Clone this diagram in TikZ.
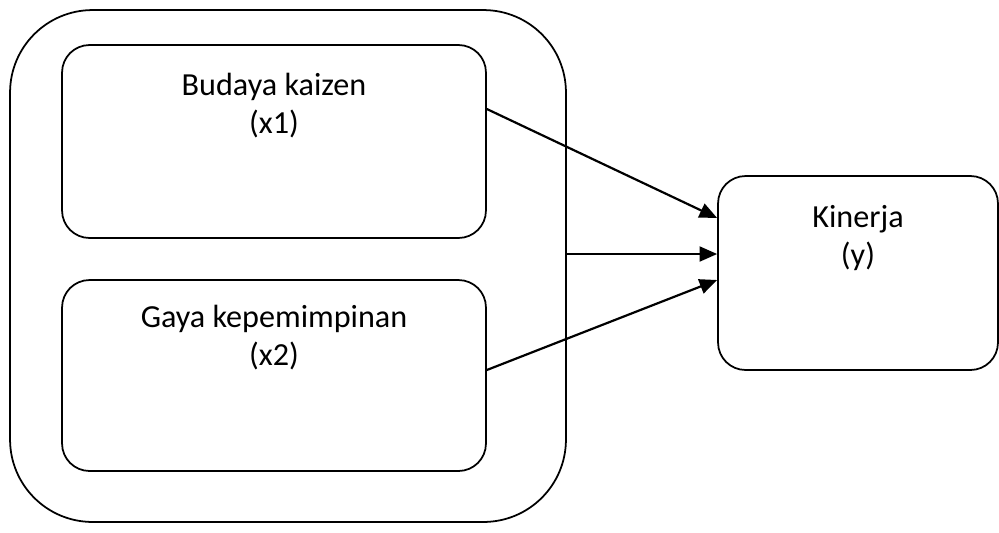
\documentclass[tikz,border=0pt]{standalone}
\usepackage{fontspec}
\setmainfont{Carlito}
\usetikzlibrary{arrows.meta,calc}

\begin{document}
\begin{tikzpicture}[x=0.02cm,y=-0.02cm]

\tikzstyle{outerbox} = [rectangle,draw=black,line width=1pt,rounded corners=1.65cm,inner sep=0]
\tikzstyle{box} = [rectangle,draw=black,line width=1pt,rounded corners=0.55cm,inner sep=0]
\tikzstyle{boxtext} = [anchor=north,align=center,inner sep=0,font=\fontsize{18.3}{21.8}\selectfont]
\tikzstyle{link} = [-{Triangle[length=10pt,width=8.5pt]},line width=1.25pt]

\useasboundingbox (0,0) rectangle (999,532);

\node[outerbox,minimum width=11.12cm,minimum height=10.24cm](outer) at (288,266){};
\node[box,minimum width=8.48cm,minimum height=3.86cm](kaizen) at (274,141.5){};
\node[box,minimum width=8.48cm,minimum height=3.82cm](gaya) at (274,375.5){};
\node[box,minimum width=5.6cm,minimum height=3.88cm](kinerja) at (858,273){};

\node[boxtext](t1) at (274,73){Budaya kaizen\\(x1)};
\node[boxtext](t2) at (274,305){Gaya kepemimpinan\\(x2)};
\node[boxtext](t3) at (858,205){Kinerja\\(y)};

\draw[link] ($(kaizen.east)+(0,-32.5)$) -- ($(kinerja.west)+(0,-55)$);
\draw[link] ($(outer.east)+(0,-12)$) -- ($(kinerja.west)+(0,-19)$);
\draw[link] ($(gaya.east)+(0,-5.5)$) -- ($(kinerja.west)+(0,7)$);

\end{tikzpicture}
\end{document}
